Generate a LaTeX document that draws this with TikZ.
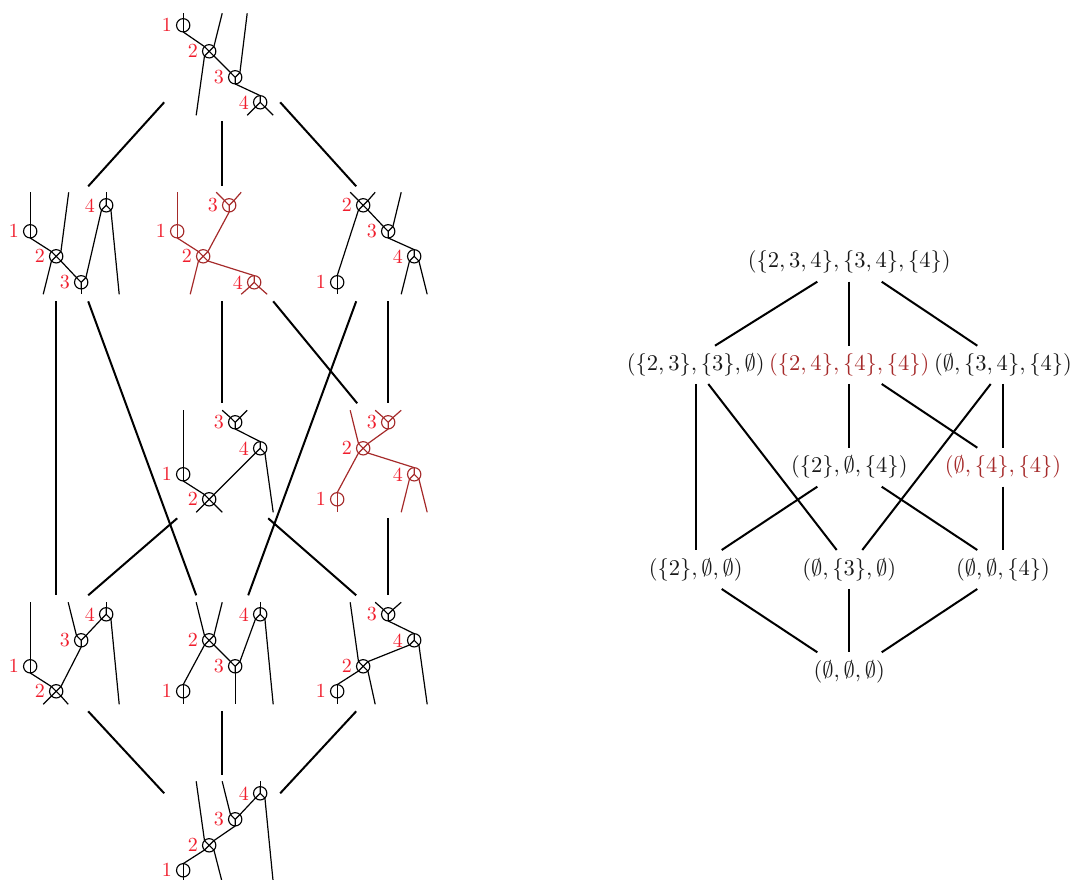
\documentclass[tikz,border=0pt]{standalone}
\definecolor{brn}{RGB}{165,42,42}
\definecolor{labred}{RGB}{240,30,45}
\tikzset{
  vbase/.style={circle,draw,inner sep=0pt,outer sep=0pt,minimum size=10pt,line width=0.85pt},
  vplain/.style={vbase,path picture={\draw[line width=0.85pt] (path picture bounding box.north)--(path picture bounding box.south);}},
  vcross/.style={vbase,path picture={\draw[line width=0.85pt] (path picture bounding box.north west)--(path picture bounding box.south east) (path picture bounding box.north east)--(path picture bounding box.south west);}},
  vup/.style={vbase,path picture={\draw[line width=0.85pt] (path picture bounding box.center)--(path picture bounding box.north west) (path picture bounding box.center)--(path picture bounding box.north east) (path picture bounding box.center)--(path picture bounding box.south);}},
  vdown/.style={vbase,path picture={\draw[line width=0.85pt] (path picture bounding box.center)--(path picture bounding box.north) (path picture bounding box.center)--(path picture bounding box.south west) (path picture bounding box.center)--(path picture bounding box.south east);}},
  vlab/.style={text=labred,inner sep=0pt,scale=1.5},
  tline/.style={line width=0.9pt},
  conn/.style={line width=1.5pt},
  lat/.style={scale=1.69,inner sep=0pt,text=black!90},
  latb/.style={lat,text=brn},
  ledge/.style={line width=1.5pt},
}
\newcommand\vx[5]{\node[#1,label={[vlab,label distance=2.1pt]left:#5}] (#2) at (#3,#4) {};}
\newcommand\lf[3]{\coordinate (L) at (#2,#3); \draw[tline] (#1) -- (L);}
\newcommand\ed[2]{\draw[tline] (#1) -- (#2);}
\begin{document}
\begin{tikzpicture}[x=0.75pt,y=-0.75pt]
\useasboundingbox (0,0) rectangle (1072,880);
\begin{scope}[shift={(0.2,0.3)}]
% tree centres
\coordinate (T) at (222,64);
\coordinate (A) at (68,243);
\coordinate (B) at (222,243);
\coordinate (C) at (388,243);
\coordinate (D) at (222,461);
\coordinate (E) at (388,461);
\coordinate (F) at (68,653);
\coordinate (G) at (222,653);
\coordinate (H) at (388,653);
\coordinate (Z) at (222,831);
% top
\vx{vplain}{t1}{183}{25}{1}\vx{vcross}{t2}{209}{51}{2}\vx{vup}{t3}{235}{77}{3}\vx{vdown}{t4}{260}{102}{4}
\lf{t1.north}{183}{13}\ed{t1.south}{t2.north west}
\lf{t2.north east}{222}{13}\lf{t2.south west}{196}{115}\ed{t2.south east}{t3.north west}
\lf{t3.north east}{247}{13}\ed{t3.south}{t4.north}
\lf{t4.south west}{247}{115}\lf{t4.south east}{273}{115}
% A
\vx{vplain}{a1}{30}{231}{1}\vx{vcross}{a2}{56}{256}{2}\vx{vup}{a3}{81}{282}{3}\vx{vdown}{a4}{106}{205}{4}
\lf{a1.north}{30}{192}\ed{a1.south}{a2.north west}
\lf{a2.north east}{68.5}{192}\lf{a2.south west}{43}{294}\ed{a2.south east}{a3.north west}
\lf{a3.south}{81}{294}\ed{a3.north east}{a4.south west}
\lf{a4.north}{106}{192}\lf{a4.south east}{119}{294}
% B (brown)
\begin{scope}[color=brn]
\vx{vplain}{b1}{177}{231}{1}\vx{vcross}{b2}{203}{256}{2}\vx{vup}{b3}{229}{205}{3}\vx{vdown}{b4}{254}{282}{4}
\lf{b1.north}{177}{192}\ed{b1.south}{b2.north west}
\ed{b2.north east}{b3.south}\lf{b3.north west}{216}{192}\lf{b3.north east}{241}{192}
\lf{b2.south west}{190}{294}\ed{b2.south east}{b4.north}
\lf{b4.south west}{241}{294}\lf{b4.south east}{267}{294}
\end{scope}
% C
\vx{vplain}{c1}{337}{282}{1}\vx{vcross}{c2}{363}{205}{2}\vx{vup}{c3}{388}{231}{3}\vx{vdown}{c4}{414}{256}{4}
\lf{c2.north west}{350}{192}\lf{c2.north east}{375}{192}\ed{c2.south west}{c1.north}
\lf{c1.south}{337}{294}\ed{c2.south east}{c3.north west}\lf{c3.north east}{401}{192}
\ed{c3.south}{c4.north}\lf{c4.south west}{401}{294}\lf{c4.south east}{427}{294}
% D
\vx{vplain}{d1}{183}{474}{1}\vx{vcross}{d2}{209}{499}{2}\vx{vup}{d3}{235}{422}{3}\vx{vdown}{d4}{260}{448}{4}
\lf{d1.north}{183}{410}\ed{d1.south}{d2.north west}\ed{d2.north east}{d4.south west}
\lf{d2.south west}{196}{512}\lf{d2.south east}{222}{512}
\lf{d3.north west}{222}{410}\lf{d3.north east}{247}{410}\ed{d3.south}{d4.north}
\lf{d4.south east}{273}{512}
% E (brown)
\begin{scope}[color=brn]
\vx{vplain}{e1}{337}{499}{1}\vx{vcross}{e2}{363}{448}{2}\vx{vup}{e3}{388}{422}{3}\vx{vdown}{e4}{414}{474}{4}
\lf{e2.north west}{350}{410}\ed{e2.north east}{e3.south}
\lf{e3.north west}{375}{410}\lf{e3.north east}{401}{410}
\ed{e2.south west}{e1.north}\lf{e1.south}{337}{512}\ed{e2.south east}{e4.north}
\lf{e4.south west}{401}{512}\lf{e4.south east}{427}{512}
\end{scope}
% F
\vx{vplain}{f1}{30}{666}{1}\vx{vcross}{f2}{56}{691}{2}\vx{vup}{f3}{81}{640}{3}\vx{vdown}{f4}{106}{614}{4}
\lf{f1.north}{30}{602}\ed{f1.south}{f2.north west}\ed{f2.north east}{f3.south}
\lf{f3.north west}{68}{602}\ed{f3.north east}{f4.south west}
\lf{f4.north}{106}{602}\lf{f4.south east}{119}{704}
\lf{f2.south west}{43}{704}\lf{f2.south east}{68}{704}
% G
\vx{vplain}{g1}{183}{691}{1}\vx{vcross}{g2}{209}{640}{2}\vx{vup}{g3}{235}{666}{3}\vx{vdown}{g4}{260}{614}{4}
\lf{g2.north west}{196}{602}\lf{g2.north east}{222}{602}\ed{g2.south west}{g1.north}
\lf{g1.south}{183}{704}\ed{g2.south east}{g3.north west}\ed{g3.north east}{g4.south west}
\lf{g3.south}{235}{704}\lf{g4.north}{260}{602}\lf{g4.south east}{273}{704}
% H
\vx{vplain}{h1}{337}{691}{1}\vx{vcross}{h2}{363}{666}{2}\vx{vup}{h3}{388}{614}{3}\vx{vdown}{h4}{414}{640}{4}
\lf{h3.north west}{375}{602}\lf{h3.north east}{401}{602}\ed{h3.south}{h4.north}
\ed{h4.south west}{h2.north east}\lf{h4.south east}{427}{704}
\lf{h2.north west}{350}{602}\lf{h2.south east}{375}{704}\ed{h2.south west}{h1.north}
\lf{h1.south}{337}{704}
% Z
\vx{vplain}{z1}{183}{870}{1}\vx{vcross}{z2}{209}{845}{2}\vx{vup}{z3}{235}{819}{3}\vx{vdown}{z4}{260}{793}{4}
\lf{z4.north}{260}{781}\ed{z4.south west}{z3.north east}\lf{z3.north west}{222}{781}
\ed{z3.south}{z2.north east}\lf{z4.south east}{273}{882}
\lf{z2.north west}{196}{781}\lf{z2.south east}{222}{882}\ed{z2.south west}{z1.north}
\lf{z1.south}{183}{882}
% connectors between trees
\draw[conn] ([shift={(-58,38)}]T) -- ([shift={(20,-57)}]A);
\draw[conn] ([shift={(0,57)}]T) -- ([shift={(0,-57)}]B);
\draw[conn] ([shift={(58,38)}]T) -- ([shift={(-32,-57)}]C);
\draw[conn] ([shift={(-12,58)}]A) -- ([shift={(-12,-58)}]F);
\draw[conn] ([shift={(20,58)}]A) -- ([shift={(-26,-58)}]G);
\draw[conn] ([shift={(0,58)}]B) -- ([shift={(0,-58)}]D);
\draw[conn] ([shift={(51,58)}]B) -- ([shift={(-31,-58)}]E);
\draw[conn] ([shift={(0,58)}]C) -- ([shift={(0,-58)}]E);
\draw[conn] ([shift={(-32,58)}]C) -- ([shift={(26,-58)}]G);
\draw[conn] ([shift={(-45,57)}]D) -- ([shift={(20,-58)}]F);
\draw[conn] ([shift={(46,57)}]D) -- ([shift={(-32,-58)}]H);
\draw[conn] ([shift={(0,57)}]E) -- ([shift={(0,-58)}]H);
\draw[conn] ([shift={(20,58)}]F) -- ([shift={(-58,-38)}]Z);
\draw[conn] ([shift={(0,58)}]G) -- ([shift={(0,-56)}]Z);
\draw[conn] ([shift={(-32,58)}]H) -- ([shift={(58,-38)}]Z);
\end{scope}
% lattice
\node[lat] (n0) at (849.3,262) {$(\{2,3,4\},\{3,4\},\{4\})$};
\node[lat] (n1) at (695.8,365) {$(\{2,3\},\{3\},\emptyset)$};
\node[latb] (n2) at (849.3,365) {$(\{2,4\},\{4\},\{4\})$};
\node[lat] (n3) at (1003,365) {$(\emptyset,\{3,4\},\{4\})$};
\node[lat] (n4) at (849.3,467) {$(\{2\},\emptyset,\{4\})$};
\node[latb] (n5) at (1003,467) {$(\emptyset,\{4\},\{4\})$};
\node[lat] (n6) at (695.8,570) {$(\{2\},\emptyset,\emptyset)$};
\node[lat] (n7) at (849.3,570) {$(\emptyset,\{3\},\emptyset)$};
\node[lat] (n8) at (1003,570) {$(\emptyset,\emptyset,\{4\})$};
\node[lat] (n9) at (849.3,672) {$(\emptyset,\emptyset,\emptyset)$};
\draw[ledge] ([shift={(-32,19.7)}]n0.center) -- ([shift={(19.2,-19.3)}]n1.center);
\draw[ledge] ([shift={(0,19.7)}]n0.center) -- ([shift={(0,-19.3)}]n2.center);
\draw[ledge] ([shift={(32.4,19.7)}]n0.center) -- ([shift={(-25.7,-19.3)}]n3.center);
\draw[ledge] ([shift={(0,19)}]n1.center) -- ([shift={(0,-20)}]n6.center);
\draw[ledge] ([shift={(12.5,19)}]n1.center) -- ([shift={(-12.6,-20)}]n7.center);
\draw[ledge] ([shift={(0,19)}]n2.center) -- ([shift={(0,-19.3)}]n4.center);
\draw[ledge] ([shift={(32.4,19)}]n2.center) -- ([shift={(-25.7,-19.3)}]n5.center);
\draw[ledge] ([shift={(0,19)}]n3.center) -- ([shift={(0,-19.3)}]n5.center);
\draw[ledge] ([shift={(-12.3,19)}]n3.center) -- ([shift={(13,-20)}]n7.center);
\draw[ledge] ([shift={(-32,19.7)}]n4.center) -- ([shift={(25.9,-20)}]n6.center);
\draw[ledge] ([shift={(32.4,19.7)}]n4.center) -- ([shift={(-25.7,-20)}]n8.center);
\draw[ledge] ([shift={(0,19.7)}]n5.center) -- ([shift={(0,-20)}]n8.center);
\draw[ledge] ([shift={(25.9,19)}]n6.center) -- ([shift={(-32,-19.7)}]n9.center);
\draw[ledge] ([shift={(0,19)}]n7.center) -- ([shift={(0,-19.7)}]n9.center);
\draw[ledge] ([shift={(-25.7,19)}]n8.center) -- ([shift={(32.4,-19.7)}]n9.center);
\end{tikzpicture}
\end{document}
